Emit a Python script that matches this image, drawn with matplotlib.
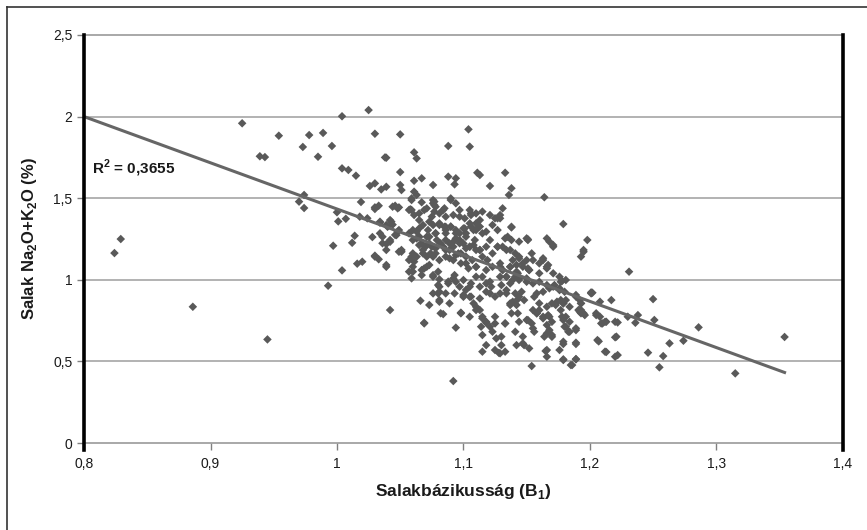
import numpy as np
import matplotlib
matplotlib.use("Agg")
import matplotlib.pyplot as plt
from matplotlib.lines import Line2D
from matplotlib import font_manager

plt.rcParams['font.family'] = ['Liberation Sans', 'DejaVu Sans']
plt.rcParams['mathtext.fontset'] = 'custom'
plt.rcParams['mathtext.rm'] = 'Liberation Sans'
plt.rcParams['mathtext.bf'] = 'Liberation Sans:bold'

# (salakbazikussag, Na2O+K2O %) pairs, grouped by region
outliers = [(0.925, 1.959), (0.954, 1.883), (0.939, 1.757), (0.943, 1.752), (0.973, 1.814),
            (0.978, 1.887), (0.989, 1.900), (0.985, 1.754), (0.996, 1.820), (1.004, 2.002),
            (1.025, 2.040), (1.030, 1.895), (1.004, 1.683), (1.009, 1.673), (1.015, 1.638),
            (1.026, 1.575), (1.030, 1.591), (0.970, 1.479), (0.974, 1.520), (0.974, 1.440),
            (1.000, 1.414), (1.001, 1.358), (1.007, 1.374), (1.019, 1.477), (1.018, 1.387),
            (1.024, 1.377), (1.030, 1.434), (1.014, 1.270), (1.012, 1.227), (1.028, 1.262),
            (0.997, 1.209), (1.016, 1.099), (1.020, 1.111), (1.030, 1.142), (1.004, 1.058),
            (0.993, 0.964), (0.829, 1.250), (0.824, 1.164), (0.886, 0.835), (0.945, 0.635)]

upper_mid = [(1.050, 1.891), (1.061, 1.781), (1.063, 1.744), (1.039, 1.748), (1.050, 1.660),
             (1.061, 1.607), (1.067, 1.622), (1.050, 1.581), (1.076, 1.581), (1.088, 1.820),
             (1.104, 1.922), (1.105, 1.816), (1.088, 1.632), (1.094, 1.622), (1.093, 1.585),
             (1.111, 1.656), (1.061, 1.540), (1.059, 1.499), (1.067, 1.475), (1.076, 1.489),
             (1.090, 1.499), (1.094, 1.469), (1.030, 1.444), (1.033, 1.454), (1.046, 1.454),
             (1.049, 1.444), (1.058, 1.432), (1.042, 1.366), (1.044, 1.338), (1.034, 1.350),
             (1.040, 1.325), (1.048, 1.295), (1.046, 1.275), (1.034, 1.285), (1.036, 1.224),
             (1.039, 1.219), (1.042, 1.233), (1.051, 1.172), (1.030, 1.148), (1.033, 1.126),
             (1.039, 1.091), (1.059, 1.142), (1.061, 1.111), (1.060, 1.080), (1.065, 1.213),
             (1.068, 1.183), (1.075, 1.203), (1.078, 1.162), (1.071, 1.264), (1.065, 1.315),
             (1.063, 1.254), (1.077, 1.458), (1.081, 1.407), (1.085, 1.438), (1.092, 1.397),
             (1.097, 1.428), (1.101, 1.377), (1.106, 1.407), (1.110, 1.346), (1.081, 1.346),
             (1.086, 1.325), (1.094, 1.305), (1.102, 1.285), (1.108, 1.305), (1.078, 1.285),
             (1.086, 1.244), (1.092, 1.233), (1.097, 1.224), (1.089, 1.183), (1.098, 1.162),
             (1.105, 1.203), (1.110, 1.183), (1.081, 1.121), (1.092, 1.121), (1.102, 1.101),
             (1.110, 1.080), (1.073, 1.091), (1.071, 1.142)]

core_a = [(1.113, 1.642), (1.133, 1.656), (1.121, 1.575), (1.138, 1.561), (1.136, 1.520),
          (1.164, 1.506), (1.179, 1.342), (1.198, 1.244), (1.195, 1.172), (1.193, 1.142),
          (1.166, 1.254), (1.171, 1.213), (1.051, 1.550), (1.063, 1.520), (1.059, 1.489),
          (1.077, 1.479), (1.078, 1.448), (1.090, 1.489), (1.105, 1.428), (1.106, 1.397),
          (1.121, 1.397), (1.127, 1.377), (1.129, 1.397), (1.131, 1.438), (1.113, 1.366),
          (1.138, 1.325), (1.150, 1.254), (1.151, 1.244), (1.163, 1.121), (1.154, 1.162),
          (1.155, 1.121), (1.057, 1.428), (1.061, 1.397), (1.065, 1.407), (1.069, 1.428),
          (1.075, 1.387), (1.085, 1.325), (1.060, 1.305), (1.063, 1.295), (1.049, 1.305),
          (1.051, 1.183), (1.060, 1.162), (1.063, 1.142), (1.057, 1.121), (1.069, 1.070),
          (1.067, 1.029), (1.059, 1.009), (1.057, 1.050), (1.076, 1.019), (1.080, 1.050),
          (1.081, 0.958), (1.080, 0.917), (1.066, 0.872), (1.073, 0.846), (1.082, 0.795),
          (1.069, 0.733), (1.098, 0.795), (1.105, 0.774), (1.100, 0.896), (1.105, 0.896),
          (1.092, 1.009), (1.094, 0.988), (1.088, 0.978), (1.110, 0.835), (1.113, 0.815),
          (1.115, 0.764), (1.118, 0.737), (1.125, 0.774), (1.125, 0.733), (1.133, 0.733),
          (1.137, 0.846), (1.139, 0.866), (1.143, 0.881), (1.129, 0.917), (1.134, 0.937),
          (1.118, 0.978), (1.122, 0.958), (1.141, 1.019), (1.144, 0.999), (1.150, 0.988),
          (1.155, 0.978), (1.160, 0.988), (1.166, 0.968), (1.171, 0.958), (1.176, 0.937),
          (1.156, 0.896), (1.160, 0.856), (1.166, 0.835), (1.173, 0.846), (1.179, 0.856),
          (1.158, 0.795), (1.163, 0.774), (1.168, 0.774), (1.193, 0.815), (1.196, 0.784),
          (1.201, 0.917), (1.181, 0.774), (1.184, 0.743), (1.143, 0.795), (1.150, 0.754),
          (1.144, 0.743)]

core_b = [(1.097, 1.285), (1.102, 1.264), (1.100, 1.223), (1.105, 1.203), (1.109, 1.244),
          (1.113, 1.183), (1.115, 1.142), (1.119, 1.121), (1.123, 1.080), (1.129, 1.101),
          (1.131, 1.060), (1.137, 1.080), (1.139, 1.121), (1.134, 1.183), (1.127, 1.203),
          (1.121, 1.244), (1.115, 1.285), (1.110, 1.305), (1.106, 1.326), (1.101, 1.315),
          (1.094, 1.254), (1.092, 1.203), (1.096, 1.162), (1.102, 1.142), (1.107, 1.121),
          (1.110, 1.080), (1.104, 1.070), (1.098, 1.101), (1.089, 1.132), (1.086, 1.183),
          (1.082, 1.223), (1.078, 1.193), (1.074, 1.162), (1.070, 1.203), (1.067, 1.223),
          (1.073, 1.264), (1.078, 1.285), (1.072, 1.305), (1.068, 1.336), (1.076, 1.336),
          (1.065, 1.264), (1.090, 1.326), (1.086, 1.285), (1.144, 1.142), (1.147, 1.080),
          (1.142, 1.050), (1.152, 1.060), (1.150, 1.121), (1.129, 1.019), (1.134, 1.019),
          (1.118, 1.060), (1.115, 1.019), (1.121, 0.989), (1.110, 1.019), (1.106, 0.978),
          (1.113, 0.958), (1.102, 0.938), (1.097, 0.958), (1.093, 0.917), (1.086, 0.917),
          (1.089, 0.856), (1.081, 0.876), (1.076, 0.917), (1.160, 1.101), (1.166, 1.080),
          (1.171, 1.040), (1.176, 1.019), (1.181, 0.999)]

lower_right = [(1.177, 0.988), (1.189, 0.907), (1.201, 0.923), (1.208, 0.866), (1.217, 0.876),
               (1.193, 0.856), (1.192, 0.815), (1.195, 0.795), (1.205, 0.795), (1.208, 0.774),
               (1.212, 0.743), (1.209, 0.733), (1.220, 0.743), (1.221, 0.652), (1.206, 0.631),
               (1.179, 0.754), (1.181, 0.713), (1.189, 0.703), (1.184, 0.682), (1.179, 0.621),
               (1.189, 0.615), (1.179, 0.513), (1.189, 0.513), (1.185, 0.478), (1.212, 0.560),
               (1.220, 0.529), (1.154, 0.472), (1.166, 0.570), (1.164, 0.652), (1.170, 0.662),
               (1.168, 0.692), (1.166, 0.723), (1.163, 0.764), (1.167, 0.784), (1.170, 0.743),
               (1.155, 0.815), (1.158, 0.795), (1.160, 0.815), (1.151, 0.754), (1.154, 0.733),
               (1.155, 0.703), (1.156, 0.682), (1.141, 0.682), (1.147, 0.652), (1.148, 0.600),
               (1.152, 0.580), (1.142, 0.600), (1.133, 0.733), (1.138, 0.795), (1.130, 0.652),
               (1.133, 0.560), (1.166, 0.529), (1.176, 0.570), (1.137, 0.856), (1.142, 0.846),
               (1.144, 0.897), (1.148, 0.876), (1.141, 0.917), (1.146, 0.927), (1.134, 0.917),
               (1.170, 0.856), (1.174, 0.866), (1.179, 0.856), (1.184, 0.835), (1.158, 0.917),
               (1.163, 0.927), (1.168, 0.948), (1.172, 0.968), (1.160, 1.040), (1.166, 1.070),
               (1.167, 1.091), (1.152, 1.060), (1.150, 1.009), (1.130, 0.968), (1.137, 0.978),
               (1.134, 1.019), (1.139, 0.999), (1.144, 1.009), (1.129, 1.080), (1.131, 1.060),
               (1.137, 1.080), (1.142, 1.091), (1.147, 1.101), (1.151, 1.070), (1.143, 1.040),
               (1.129, 0.550), (1.130, 0.600)]

lower_left = [(1.042, 0.815), (1.081, 0.866), (1.069, 0.737), (1.084, 0.790), (1.094, 0.707),
              (1.098, 0.799), (1.080, 0.968), (1.081, 0.927), (1.081, 1.003), (1.060, 1.050),
              (1.067, 1.060), (1.071, 1.080), (1.039, 1.080), (1.076, 1.029), (1.088, 0.989),
              (1.093, 1.029), (1.100, 0.999), (1.105, 0.958), (1.100, 0.907), (1.106, 0.897),
              (1.113, 0.886), (1.110, 0.815), (1.108, 0.856), (1.115, 0.774), (1.118, 0.743),
              (1.114, 0.713), (1.121, 0.713), (1.123, 0.682), (1.115, 0.662), (1.126, 0.641),
              (1.118, 0.600), (1.125, 0.570), (1.115, 0.560), (1.121, 0.917), (1.125, 0.897),
              (1.118, 0.927), (1.092, 0.380), (1.165, 0.564), (1.128, 0.553), (1.147, 0.611),
              (1.166, 0.672), (1.170, 0.651)]

core_c = [(1.038, 1.750), (1.035, 1.554), (1.039, 1.570), (1.076, 1.469), (1.044, 1.448),
          (1.048, 1.438), (1.059, 1.428), (1.071, 1.438), (1.077, 1.418), (1.084, 1.428),
          (1.086, 1.387), (1.097, 1.387), (1.110, 1.407), (1.115, 1.418), (1.125, 1.377),
          (1.034, 1.356), (1.039, 1.336), (1.043, 1.356), (1.065, 1.366), (1.073, 1.356),
          (1.081, 1.336), (1.086, 1.305), (1.090, 1.326), (1.094, 1.285), (1.100, 1.315),
          (1.105, 1.346), (1.113, 1.326), (1.118, 1.295), (1.123, 1.336), (1.127, 1.305),
          (1.036, 1.264), (1.042, 1.244), (1.047, 1.274), (1.057, 1.285), (1.060, 1.244),
          (1.065, 1.264), (1.073, 1.223), (1.079, 1.244), (1.084, 1.203), (1.089, 1.223),
          (1.097, 1.244), (1.102, 1.193), (1.108, 1.213), (1.113, 1.183), (1.118, 1.203),
          (1.123, 1.162), (1.127, 1.203), (1.039, 1.183), (1.049, 1.172), (1.068, 1.162),
          (1.076, 1.142), (1.086, 1.142), (1.094, 1.152), (1.129, 1.377), (1.138, 1.321),
          (1.133, 1.254), (1.135, 1.264), (1.138, 1.244), (1.144, 1.234), (1.151, 1.248),
          (1.168, 1.234), (1.171, 1.203), (1.195, 1.183), (1.131, 1.203), (1.137, 1.183),
          (1.141, 1.162), (1.163, 1.132), (1.144, 1.132)]

tail = [(1.231, 1.050), (1.178, 0.993), (1.176, 0.948), (1.180, 0.927), (1.177, 0.876),
        (1.181, 0.876), (1.177, 0.815), (1.178, 0.774), (1.189, 0.897), (1.192, 0.876),
        (1.193, 0.856), (1.202, 0.921), (1.250, 0.882), (1.191, 0.815), (1.193, 0.795),
        (1.192, 0.805), (1.205, 0.784), (1.210, 0.733), (1.213, 0.743), (1.222, 0.739),
        (1.230, 0.774), (1.238, 0.784), (1.236, 0.737), (1.251, 0.754), (1.286, 0.709),
        (1.274, 0.627), (1.263, 0.611), (1.258, 0.533), (1.255, 0.464), (1.246, 0.554),
        (1.220, 0.648), (1.207, 0.623), (1.222, 0.539), (1.213, 0.558), (1.180, 0.713),
        (1.183, 0.682), (1.189, 0.692), (1.179, 0.607), (1.189, 0.607), (1.179, 0.509),
        (1.186, 0.478), (1.189, 0.515), (1.315, 0.427), (1.354, 0.650)]

# linear trendline as shown in the chart
slope = -2.829
intercept = 4.263
r_squared = "0,3655"

xticks = [0.8, 0.9, 1.0, 1.1, 1.2, 1.3, 1.4]
xtick_labels = ["0,8", "0,9", "1", "1,1", "1,2", "1,3", "1,4"]
yticks = [0, 0.5, 1, 1.5, 2, 2.5]
ytick_labels = ["0", "0,5", "1", "1,5", "2", "2,5"]

pts = np.array(outliers + upper_mid + core_a + core_b + lower_right + lower_left + core_c + tail)
x = pts[:, 0]
y = pts[:, 1]

# narrow face for tick numbers if available
names = {f.name for f in font_manager.fontManager.ttflist}
tick_family = ['Liberation Sans Narrow'] if 'Liberation Sans Narrow' in names else ['Liberation Sans']

fig = plt.figure(figsize=(8.67, 5.30), dpi=100)
ax = fig.add_axes([0.097, 0.164, 0.875, 0.770])

for g in [0.5, 1.0, 1.5, 2.0]:
    ax.axhline(g, color="#a6a6a6", lw=1.2, zorder=1)

ax.scatter(x, y, marker="D", s=19, color="#595959", edgecolors="none", zorder=3)

line_x = np.array([0.8, x.max()])
ax.plot(line_x, intercept + slope * line_x, color="#666666", lw=2.2, zorder=4)

ax.text(0.806, 1.68, r"R$^\mathbf{2}$ = " + r_squared, fontsize=11, fontweight="bold",
        va="center", ha="left", color="#1a1a1a")

ax.set_xlim(0.8, 1.4)
ax.set_ylim(0, 2.5)
ax.set_xticks(xticks)
ax.set_xticklabels(xtick_labels, family=tick_family)
ax.set_yticks(yticks)
ax.set_yticklabels(ytick_labels, family=tick_family)
ax.tick_params(axis="both", labelsize=10, colors="#1a1a1a", length=5, width=1,
               color="#808080")
ax.tick_params(axis="x", pad=5)

for side in ["left", "right"]:
    ax.spines[side].set_visible(False)
for side in ["top", "bottom"]:
    ax.spines[side].set_color("#999999")
    ax.spines[side].set_linewidth(1.2)

# heavy black side borders of the plot area, reaching slightly below the axis
for xa in [0, 1]:
    ax.add_line(Line2D([xa, xa], [-0.018, 1], transform=ax.transAxes, color="black",
                       lw=2.6, clip_on=False, zorder=5))

ax.set_xlabel(r"Salakbázikusság (B$_\mathbf{1}$)", fontsize=12.5, fontweight="bold",
              labelpad=8, color="#1a1a1a")
ax.set_ylabel(r"Salak Na$_\mathbf{2}$O+K$_\mathbf{2}$O (%)", fontsize=12, fontweight="bold",
              labelpad=10, color="#1a1a1a")

# outer frame (left and top edges visible in the scan)
fig.add_artist(Line2D([0.008, 0.008], [0, 0.987], transform=fig.transFigure, color="#333333", lw=1.2))
fig.add_artist(Line2D([0.008, 1], [0.987, 0.987], transform=fig.transFigure, color="#333333", lw=1.2))

fig.savefig("out.png", dpi=100)
